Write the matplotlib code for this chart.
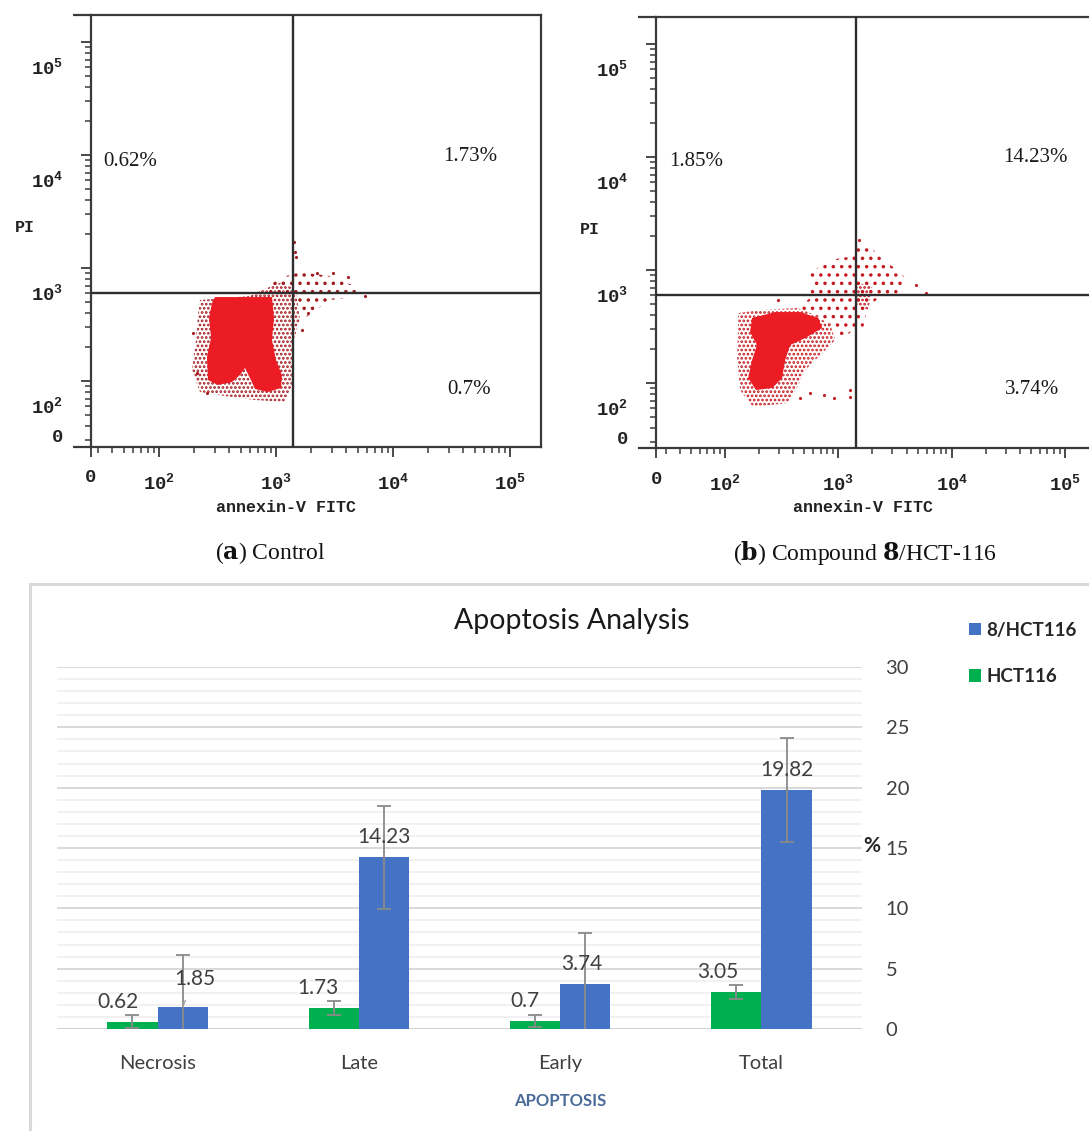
import numpy as np
import matplotlib
matplotlib.use('Agg')
import matplotlib.pyplot as plt
from matplotlib.patches import Polygon, Rectangle
from matplotlib.ticker import FixedLocator, NullFormatter, LogLocator, MultipleLocator
import matplotlib.transforms as mtransforms

plt.rcParams['mathtext.fontset'] = 'custom'
plt.rcParams['mathtext.rm'] = 'Liberation Mono'
plt.rcParams['mathtext.bf'] = 'Liberation Mono:bold'
plt.rcParams['hatch.linewidth'] = 1.3

# ---------------------------------------------------------------- data
# flow cytometry (log10 of fluorescence intensity)
tick_exps = [2, 3, 4, 5]

gate_a = (1400, 600)      # annexin-V, PI gates (control)
gate_b = (1430, 600)      # compound 8

pct_a = ['0.62%', '1.73%', '0.7%']     # UL, UR, LR
pct_b = ['1.85%', '14.23%', '3.74%']

# panel a: solid core of the population
a_core_lx = [2.479, 2.966, 2.983, 2.966, 3.000, 3.051, 3.043, 2.932, 2.821, 2.778,
             2.735, 2.692, 2.624, 2.504, 2.419, 2.410, 2.445, 2.428, 2.453]
a_core_ly = [2.743, 2.743, 2.558, 2.363, 2.186, 2.053, 1.938, 1.903, 1.929, 2.027,
             2.115, 2.053, 1.991, 1.965, 2.009, 2.212, 2.381, 2.558, 2.690]
# panel a: dense speckled halo
a_halo_lx = [2.350, 2.778, 2.880, 3.051, 3.171, 3.205, 3.137, 3.137, 3.077, 2.821,
             2.564, 2.350, 2.282, 2.316, 2.333]
a_halo_ly = [2.717, 2.752, 2.805, 2.876, 2.805, 2.540, 2.319, 1.965, 1.814, 1.832,
             1.867, 1.903, 2.097, 2.363, 2.584]
# panel a: sparse tail into late-apoptotic quadrant
a_tail_lx = [2.880, 3.034, 3.205, 3.462, 3.650, 3.761, 3.462, 3.248, 3.171]
a_tail_ly = [2.805, 2.912, 2.965, 2.929, 2.850, 2.752, 2.717, 2.558, 2.717]
# panel a: isolated events
a_out_lx = [3.156, 3.162, 3.171, 3.618, 3.761, 3.487, 3.348, 3.274, 3.220, 2.293, 2.322, 2.408]
a_out_ly = [3.233, 3.144, 3.100, 2.923, 2.752, 2.956, 2.953, 2.602, 2.451, 2.425, 2.071, 1.894]

# panel b
b_core_lx = [2.239, 2.442, 2.664, 2.823, 2.858, 2.708, 2.575, 2.531, 2.504, 2.416,
             2.274, 2.204, 2.239, 2.283, 2.221]
b_core_ly = [2.575, 2.628, 2.628, 2.575, 2.487, 2.398, 2.336, 2.204, 2.044, 1.956,
             1.938, 2.044, 2.204, 2.336, 2.451]
b_halo_lx = [2.115, 2.310, 2.637, 2.796, 2.929, 2.973, 2.841, 2.708, 2.637, 2.549,
             2.248, 2.133, 2.106, 2.115]
b_halo_ly = [2.619, 2.646, 2.664, 2.602, 2.513, 2.381, 2.248, 2.115, 1.965, 1.823,
             1.788, 1.938, 2.230, 2.469]
b_up_lx = [2.637, 2.752, 2.752, 2.929, 3.080, 3.168, 3.283, 3.398, 3.522, 3.611,
           3.549, 3.372, 3.257, 3.221, 3.133, 3.018, 2.929, 2.796]
b_up_ly = [2.664, 2.752, 2.982, 3.088, 3.115, 3.221, 3.204, 3.088, 3.000, 2.912,
           2.779, 2.761, 2.673, 2.496, 2.469, 2.381, 2.513, 2.602]
b_dense_lx = [3.150, 3.301, 3.265, 3.150]
b_dense_ly = [2.885, 2.867, 2.646, 2.690]
b_out_lx = [2.959, 3.106, 3.106, 2.870, 2.752, 3.770, 3.681, 2.472, 3.180, 2.664]
b_out_ly = [1.865, 1.938, 1.879, 1.894, 1.909, 2.794, 2.867, 2.735, 3.265, 1.865]

# bar chart
categories = ['Necrosis', 'Late', 'Early', 'Total']
hct116 = [0.62, 1.73, 0.7, 3.05]
cmp8 = [1.85, 14.23, 3.74, 19.82]
err_hct = [0.55, 0.58, 0.5, 0.57]
err_cmp = [4.3, 4.25, 4.2, 4.3]

# ---------------------------------------------------------------- figure
W, H = 1089, 1131
fig = plt.figure(figsize=(W / 100, H / 100), dpi=100)


def fx(px):
    return px / W


def fy(py):
    return 1 - py / H


RED = '#ec1c24'
AXC = '#3a3a3a'


def flow_panel(left, right, top, bottom, xlog, ylog, gate, core, halo, sparse, dense,
               outl, pcts, pct_pos, pi_xy, xl_xy, speck):
    ax = fig.add_axes([fx(left), fy(bottom), fx(right) - fx(left), fy(top) - fy(bottom)])
    ax.set_xscale('log')
    ax.set_yscale('log')
    ax.set_xlim(10 ** xlog[0], 10 ** xlog[1])
    ax.set_ylim(10 ** ylog[0], 10 ** ylog[1])
    for s in ax.spines.values():
        s.set_color(AXC)
        s.set_linewidth(1.6)
    majors_x = [10 ** xlog[0]] + [10.0 ** e for e in tick_exps]
    majors_y = [10 ** ylog[0]] + [10.0 ** e for e in tick_exps]
    ax.xaxis.set_major_locator(FixedLocator(majors_x))
    ax.yaxis.set_major_locator(FixedLocator(majors_y))
    ax.xaxis.set_minor_locator(LogLocator(base=10, subs=np.arange(2, 10), numticks=20))
    ax.yaxis.set_minor_locator(LogLocator(base=10, subs=np.arange(2, 10), numticks=20))
    for a in (ax.xaxis, ax.yaxis):
        a.set_major_formatter(NullFormatter())
        a.set_minor_formatter(NullFormatter())
    ax.tick_params(which='major', direction='out', length=7, width=1.3, color=AXC)
    ax.tick_params(which='minor', direction='out', length=4, width=1.1, color=AXC)
    for yy in (0, 1):
        ax.plot([-18 / (right - left), 0], [yy, yy], transform=ax.transAxes,
                color=AXC, lw=1.6, clip_on=False, solid_capstyle='butt')

    bx = mtransforms.blended_transform_factory(ax.transData, ax.transAxes)
    by = mtransforms.blended_transform_factory(ax.transAxes, ax.transData)
    labs = ['0'] + [r'$\mathbf{10^{%d}}$' % e for e in tick_exps]
    for i, (v, lab) in enumerate(zip(majors_x, labs)):
        dy = -0.31 if i == 0 else -0.36
        off = mtransforms.ScaledTranslation(0, dy, fig.dpi_scale_trans)
        ax.text(v, 0, lab, transform=bx + off, ha='center', va='center',
                fontsize=13.5, family='Liberation Mono', weight='bold', color='#222222')
    for i, (v, lab) in enumerate(zip(majors_y, labs)):
        dy = 0.09 if i == 0 else -0.26
        off = mtransforms.ScaledTranslation(-0.28, dy, fig.dpi_scale_trans)
        ax.text(0, v, lab, transform=by + off, ha='right', va='center',
                fontsize=13.5, family='Liberation Mono', weight='bold', color='#222222')

    def poly(lx, ly, **kw):
        pts = np.column_stack([10 ** np.asarray(lx), 10 ** np.asarray(ly)])
        ax.add_patch(Polygon(pts, closed=True, **kw))

    poly(*sparse, facecolor='none', edgecolor=speck, linewidth=0, hatch='..', zorder=2)
    poly(*halo, facecolor='none', edgecolor=speck, linewidth=0, hatch='....', zorder=2)
    if dense is not None:
        poly(*dense, facecolor='none', edgecolor='#c0141a', linewidth=0, hatch='....', zorder=2)
    poly(*core, facecolor=RED, edgecolor='none', linewidth=0, zorder=3)
    ax.scatter(10 ** np.asarray(outl[0]), 10 ** np.asarray(outl[1]), s=5, color=speck,
               linewidths=0, zorder=3)

    ax.axvline(gate[0], color='#2e2e2e', lw=1.7, zorder=4)
    ax.axhline(gate[1], color='#2e2e2e', lw=1.7, zorder=4)

    for t, (px, py) in zip(pcts, pct_pos):
        fig.text(fx(px), fy(py), t, ha='center', va='center', fontsize=15,
                 family='Liberation Serif', color='#1a1a1a')
    fig.text(fx(pi_xy[0]), fy(pi_xy[1]), 'PI', ha='center', va='center', fontsize=12,
             family='Liberation Mono', weight='bold', color='#222222')
    fig.text(fx(xl_xy[0]), fy(xl_xy[1]), 'annexin-V FITC', ha='center', va='center',
             fontsize=12, family='Liberation Mono', weight='bold', color='#222222')
    return ax


flow_panel(91, 541, 15, 447, (1.419, 5.265), (1.416, 5.239), gate_a,
           (a_core_lx, a_core_ly), (a_halo_lx, a_halo_ly), (a_tail_lx, a_tail_ly), None,
           (a_out_lx, a_out_ly), pct_a, [(130, 161), (470, 156), (469, 389)],
           (25, 228), (286, 507), '#a31a1f')
flow_panel(656, 1095, 17, 448, (1.391, 5.265), (1.425, 5.239), gate_b,
           (b_core_lx, b_core_ly), (b_halo_lx, b_halo_ly), (b_up_lx, b_up_ly),
           (b_dense_lx, b_dense_ly),
           (b_out_lx, b_out_ly), pct_b, [(696, 161), (1035, 157), (1032, 390)],
           (590, 229), (863, 508), '#c41a20')

# captions
fig.text(fx(270), fy(553), r'($\bf{a}$) Control', ha='center', va='center', fontsize=17,
         family='Liberation Serif', math_fontfamily='dejavuserif', color='#111111')
fig.text(fx(865), fy(553), r'($\bf{b}$) Compound $\bf{8}$/HCT-116', ha='center', va='center',
         fontsize=17, family='Liberation Serif', math_fontfamily='dejavuserif', color='#111111')

# ---------------------------------------------------------------- bar chart
fig.add_artist(Rectangle((fx(30), -0.02), 1.2, fy(584) + 0.02, transform=fig.transFigure,
                         fill=False, edgecolor='#d9d9d9', linewidth=2.2))

axb = fig.add_axes([fx(57), fy(1029), fx(862) - fx(57), fy(667) - fy(1029)])
x = np.arange(len(categories))
w = 0.25
ekw = dict(ecolor='#8a8a8a', elinewidth=1.3, capsize=5, capthick=1.3, zorder=5)
bg = axb.bar(x - w / 2, hct116, w, color='#00B050', yerr=err_hct, error_kw=ekw, zorder=3,
             label='HCT116')
bb = axb.bar(x + w / 2, cmp8, w, color='#4472C4', yerr=err_cmp, error_kw=ekw, zorder=3,
             label='8/HCT116')
axb.set_xlim(-0.5, 3.5)
axb.set_ylim(0, 30)
axb.yaxis.tick_right()
axb.yaxis.set_major_locator(MultipleLocator(5))
axb.yaxis.set_minor_locator(MultipleLocator(1))
axb.grid(which='major', axis='y', color='#d9d9d9', lw=1.4, zorder=0)
axb.grid(which='minor', axis='y', color='#efefef', lw=1.2, zorder=0)
for s in axb.spines.values():
    s.set_visible(False)
axb.axhline(0, color='#d0d0d0', lw=2, zorder=2)
axb.set_xticks(x)
axb.set_xticklabels(categories)
axb.tick_params(axis='both', which='both', length=0)
axb.tick_params(axis='x', pad=19, labelsize=14.5, labelcolor='#404040')
axb.tick_params(axis='y', pad=17, labelsize=14.5, labelcolor='#404040')
for lab in axb.get_xticklabels() + axb.get_yticklabels():
    lab.set_family('Lato')

g_dx = [-14, -16, -10, -18]
b_dx = [12, 0, -4, 0]
b_dy = [28, 20, 20, 20]
for i in range(len(categories)):
    axb.annotate(f'{hct116[i]:g}', (x[i] - w / 2, hct116[i]),
                 xytext=(g_dx[i] * 0.72, 20 * 0.72), textcoords='offset points',
                 ha='center', va='center', fontsize=15, family='Lato', color='#404040', zorder=6)
    arrow = dict(arrowstyle='-', color='#a6a6a6', lw=1, shrinkA=7, shrinkB=0) if i == 0 else None
    axb.annotate(f'{cmp8[i]:g}', (x[i] + w / 2, cmp8[i]),
                 xytext=(b_dx[i] * 0.72, b_dy[i] * 0.72), textcoords='offset points',
                 ha='center', va='center', fontsize=15, family='Lato', color='#404040',
                 arrowprops=arrow, zorder=6)

fig.text(fx(572), fy(621), 'Apoptosis Analysis', ha='center', va='center', fontsize=20.5,
         family='Lato', color='#1a1a1a')
fig.text(fx(560), fy(1101), 'APOPTOSIS', ha='center', va='center', fontsize=12,
         family='Lato', weight='bold', color='#4a6a9a')
fig.text(fx(872), fy(846), '%', ha='center', va='center', fontsize=15, family='Lato',
         weight='bold', color='#262626')
fig.legend(handles=[bb, bg], labels=['8/HCT116', 'HCT116'], loc='upper left',
           bbox_to_anchor=(fx(969), fy(622)), frameon=False, handlelength=0.62,
           handleheight=0.62, handletextpad=0.3, labelspacing=1.55, borderpad=0,
           borderaxespad=0, prop=dict(family='Lato', weight='bold', size=13.5),
           labelcolor='#262626')

fig.savefig('out.png', dpi=100)
